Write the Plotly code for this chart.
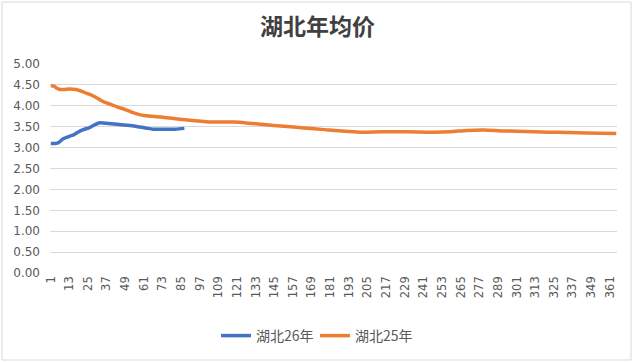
import plotly.graph_objects as go

title_text = "湖北年均价"
series_26_name = "湖北26年"
series_25_name = "湖北25年"

# day index (category) and values
days_26 = [1, 4, 6, 9, 13, 16, 19, 22, 26, 29, 32, 35, 40, 45, 52, 57, 62, 67, 75, 81, 87]
vals_26 = [3.10, 3.10, 3.12, 3.21, 3.27, 3.31, 3.38, 3.43, 3.48, 3.54, 3.59, 3.59, 3.57,
           3.55, 3.53, 3.50, 3.47, 3.44, 3.44, 3.44, 3.46]

days_25 = [1, 3, 5, 7, 10, 13, 17, 20, 24, 28, 32, 36, 40, 44, 49, 53, 57, 61, 66, 72, 79,
           86, 94, 101, 110, 119, 127, 138, 151, 164, 177, 190, 200, 215, 230, 247, 258,
           269, 280, 291, 301, 312, 322, 334, 346, 365]
vals_25 = [4.48, 4.47, 4.42, 4.39, 4.39, 4.40, 4.39, 4.36, 4.30, 4.24, 4.16, 4.08, 4.03,
           3.97, 3.91, 3.85, 3.80, 3.77, 3.75, 3.73, 3.70, 3.67, 3.64, 3.62, 3.61, 3.61,
           3.59, 3.55, 3.51, 3.47, 3.43, 3.39, 3.37, 3.38, 3.38, 3.37, 3.38, 3.41, 3.42,
           3.40, 3.39, 3.38, 3.37, 3.36, 3.35, 3.34]

n_days = 365
x_tick_vals = list(range(1, 366, 12))
x_tick_text = [str(v) for v in x_tick_vals]
y_tick_vals = [0, 0.5, 1, 1.5, 2, 2.5, 3, 3.5, 4, 4.5, 5]
y_tick_text = [f"{v:.2f}" for v in y_tick_vals]

BLUE = "#4472C4"
ORANGE = "#ED7D31"
GRID = "#D9D9D9"
TXT = "#595959"

fig = go.Figure()
fig.add_trace(go.Scatter(x=days_26, y=vals_26, mode="lines", name=series_26_name,
                         line=dict(color=BLUE, width=3.5, shape="spline", smoothing=0.8)))
fig.add_trace(go.Scatter(x=days_25, y=vals_25, mode="lines", name=series_25_name,
                         line=dict(color=ORANGE, width=3.5, shape="spline", smoothing=0.8)))

L, R, T, B = 50, 18, 64, 89
W, H = 635, 362
pw = W - L - R
ph = H - T - B

fig.update_layout(
    width=W, height=H,
    margin=dict(l=L, r=R, t=T, b=B, autoexpand=False),
    paper_bgcolor="white", plot_bgcolor="white",
    title=dict(text=title_text, x=0.5, xanchor="center", xref="container",
               y=1 - 27 / H, yref="container", yanchor="middle",
               font=dict(family="Noto Sans CJK SC", size=23, color="#404040", weight="bold")),
    font=dict(family="DejaVu Sans", size=12, color=TXT),
    showlegend=True,
    legend=dict(orientation="h", xref="container", x=315 / W, xanchor="center",
                yref="container", y=1 - 336 / H, yanchor="middle",
                font=dict(family="Noto Sans CJK SC", size=14, color=TXT),
                itemwidth=30, entrywidth=54, entrywidthmode="pixels",
                bgcolor="rgba(0,0,0,0)"),
    xaxis=dict(range=[0.5, n_days + 0.5], tickmode="array", tickvals=x_tick_vals,
               ticktext=x_tick_text, tickangle=-90, showgrid=False, zeroline=False,
               showline=False, ticks="", automargin=False,
               tickfont=dict(family="DejaVu Sans", size=11.5, color=TXT)),
    yaxis=dict(range=[0, 5], tickmode="array", tickvals=y_tick_vals, ticktext=y_tick_text,
               showgrid=True, gridcolor=GRID, gridwidth=1, zeroline=False, showline=False,
               ticks="", ticklabelstandoff=9, automargin=False,
               tickfont=dict(family="DejaVu Sans", size=12, color=TXT)),
    shapes=[dict(type="rect", xref="paper", yref="paper",
                 x0=(2 - L) / pw, x1=(631 - L) / pw,
                 y0=(H - B - 360) / ph, y1=(H - B - 2) / ph,
                 line=dict(color="#D9D9D9", width=1), fillcolor="rgba(0,0,0,0)", layer="below")],
)

fig.write_html("out.html", config={"displayModeBar": False},
               post_script="document.body.style.margin='0';")
